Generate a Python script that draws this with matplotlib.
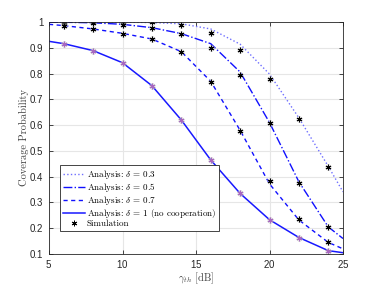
import matplotlib
matplotlib.use("Agg")
import matplotlib.pyplot as plt
import numpy as np

plt.rcParams['mathtext.fontset'] = 'cm'
plt.rcParams['axes.formatter.use_mathtext'] = True

# Analysis curves
x_ana = [5, 6, 8, 10, 12, 14, 16, 18, 20, 22, 24, 25]
ana_03 = [1.0, 1.0, 1.0, 0.9995, 0.998, 0.993, 0.973, 0.914, 0.798, 0.628, 0.44, 0.341]
ana_05 = [0.999, 0.999, 0.997, 0.991, 0.978, 0.955, 0.916, 0.806, 0.61, 0.38, 0.205, 0.16]
ana_07 = [0.991, 0.986, 0.973, 0.956, 0.934, 0.885, 0.77, 0.58, 0.372, 0.232, 0.145, 0.12]
ana_10 = [0.925, 0.916, 0.889, 0.842, 0.753, 0.62, 0.465, 0.335, 0.233, 0.164, 0.113, 0.105]

# Simulation points
x_sim = [6, 8, 10, 12, 14, 16, 18, 20, 22, 24]
sim_03 = [1.0, 1.0, 1.0, 0.999, 0.99, 0.956, 0.891, 0.778, 0.624, 0.436]
sim_05 = [0.997, 0.995, 0.99, 0.976, 0.953, 0.900, 0.793, 0.607, 0.377, 0.203]
sim_07 = [0.985, 0.972, 0.955, 0.934, 0.883, 0.767, 0.579, 0.384, 0.236, 0.147]
sim_10 = [0.916, 0.889, 0.842, 0.753, 0.62, 0.465, 0.335, 0.233, 0.164, 0.113]

labels = [r'Analysis: $\delta\,=\,0.3$', r'Analysis: $\delta\,=\,0.5$',
          r'Analysis: $\delta\,=\,0.7$', r'Analysis: $\delta\,=\,1$ (no cooperation)',
          'Simulation']
xticks = [5, 10, 15, 20, 25]
yticks = [0.1, 0.2, 0.3, 0.4, 0.5, 0.6, 0.7, 0.8, 0.9, 1.0]
ytick_labels = ['0.1', '0.2', '0.3', '0.4', '0.5', '0.6', '0.7', '0.8', '0.9', '1']

fig = plt.figure(figsize=(3.79, 2.85), dpi=100)
ax = fig.add_axes([49/379, 31/285, 294/379, 232/285])

l1, = ax.plot(x_ana, ana_03, ':', color='#6f6fff', lw=1.0)
l2, = ax.plot(x_ana, ana_05, '-.', color='#1010ff', lw=1.0)
l3, = ax.plot(x_ana, ana_07, '--', color='#1010ff', lw=1.0, dashes=(3, 2.5))
l4, = ax.plot(x_ana, ana_10, '-', color='#1818ff', lw=1.1)

ast = (6, 2, 0)
for ys, col in [(sim_03, 'k'), (sim_05, 'k'), (sim_07, 'k'), (sim_10, '#a868c0')]:
    ax.plot(x_sim, ys, linestyle='none', marker=ast, ms=4.5, mec='#c0c0c0', mew=1.6, alpha=0.5)
    ax.plot(x_sim, ys, linestyle='none', marker=ast, ms=4, mec=col, mew=0.7)
ls, = ax.plot([], [], linestyle='none', marker=ast, ms=4, mec='k', mew=0.7)

ax.set_xlim(5, 25)
ax.set_ylim(0.1, 1.0)
ax.set_xticks(xticks)
ax.set_yticks(yticks)
ax.set_yticklabels(ytick_labels)
ax.grid(True, color='#e6e6e6', lw=0.8)
ax.set_axisbelow(True)
ax.tick_params(direction='in', length=3, width=0.6, top=True, right=True,
               labelsize=7, colors='#262626')
ax.tick_params(axis='x', pad=3)
ax.tick_params(axis='y', pad=4)
for lab in ax.get_xticklabels() + ax.get_yticklabels():
    lab.set_fontfamily('Liberation Sans')
for sp in ax.spines.values():
    sp.set_color('#262626')
    sp.set_linewidth(0.6)

ax.set_ylabel('Coverage Probability', family='cmr10', fontsize=7.5, color='#404040', labelpad=1)
ax.set_xlabel(r'$\gamma_{th}$ [dB]', family='cmr10', fontsize=7.5, color='#404040', labelpad=0)

leg = ax.legend([l1, l2, l3, l4, ls], labels, loc='lower left',
                bbox_to_anchor=(0.037, 0.099), borderaxespad=0,
                prop={'family': 'cmr10', 'size': 6.5}, labelspacing=0.0,
                handlelength=2.5, handletextpad=0.2, borderpad=0.3,
                fancybox=False, framealpha=1, edgecolor='#262626')
leg.get_frame().set_linewidth(0.6)

fig.savefig('out.png', dpi=100)
